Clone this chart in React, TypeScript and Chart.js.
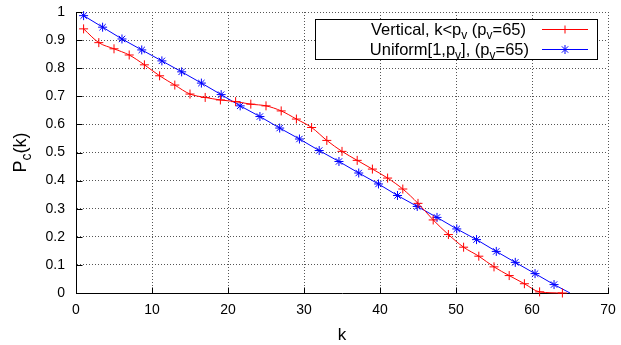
import React, { useEffect, useRef } from "react";
import { Chart, registerables } from "chart.js";

Chart.register(...registerables);

// ---- data ----
const kVertical = [1, 3, 5, 7, 9, 11, 13, 15, 17, 19, 21, 23, 25, 27, 29, 31, 33, 35, 37, 39, 41, 43, 45, 47, 49, 51, 53, 55, 57, 59, 61, 64];
const pVertical = [0.94, 0.891, 0.869, 0.847, 0.812, 0.773, 0.74, 0.708, 0.696, 0.687, 0.681, 0.672, 0.666, 0.648, 0.619, 0.589, 0.543, 0.504, 0.472, 0.441, 0.409, 0.37, 0.319, 0.26, 0.208, 0.163, 0.131, 0.093, 0.062, 0.033, 0.004, 0.0];

const kUniform = [1, 3.5, 6.05, 8.65, 11.3, 13.9, 16.5, 19.1, 21.6, 24.2, 26.8, 29.4, 32.0, 34.6, 37.2, 39.8, 42.3, 44.9, 47.5, 50.1, 52.7, 55.3, 57.8, 60.4, 62.9, 65];
const pUniform = [0.987, 0.946, 0.904, 0.865, 0.826, 0.787, 0.747, 0.706, 0.666, 0.628, 0.587, 0.548, 0.507, 0.468, 0.427, 0.388, 0.347, 0.308, 0.269, 0.228, 0.19, 0.148, 0.109, 0.069, 0.03, 0.0];

const xTickValues = [0, 10, 20, 30, 40, 50, 60, 70];
const xTickLabels = ["0", "10", "20", "30", "40", "50", "60", "70"];
const yTickValues = [0, 0.1, 0.2, 0.3, 0.4, 0.5, 0.6, 0.7, 0.8, 0.9, 1];
const yTickLabels = ["0", "0.1", "0.2", "0.3", "0.4", "0.5", "0.6", "0.7", "0.8", "0.9", "1"];

type Seg = { t: string; sub?: boolean };
const xTitle: Seg[] = [{ t: "k" }];
const yTitle: Seg[] = [{ t: "P" }, { t: "c", sub: true }, { t: "(k)" }];
const legendVertical: Seg[] = [{ t: "Vertical, k<p" }, { t: "v", sub: true }, { t: " (p" }, { t: "v", sub: true }, { t: "=65)" }];
const legendUniform: Seg[] = [{ t: "Uniform[1,p" }, { t: "v", sub: true }, { t: "], (p" }, { t: "v", sub: true }, { t: "=65)" }];

const RED = "#ff0000";
const BLUE = "#0000ff";
const FONT = '"Liberation Sans", Arial, Helvetica, sans-serif';

function richWidth(ctx: CanvasRenderingContext2D, segs: Seg[], size: number) {
  let w = 0;
  for (const s of segs) {
    ctx.font = `${s.sub ? Math.round(size * 0.75) : size}px ${FONT}`;
    w += ctx.measureText(s.t).width;
  }
  return w;
}

function drawRich(ctx: CanvasRenderingContext2D, segs: Seg[], x: number, y: number, size: number, align: "left" | "center" | "right") {
  const total = richWidth(ctx, segs, size);
  let cx = align === "right" ? x - total : align === "center" ? x - total / 2 : x;
  ctx.textAlign = "left";
  ctx.textBaseline = "alphabetic";
  for (const s of segs) {
    ctx.font = `${s.sub ? Math.round(size * 0.75) : size}px ${FONT}`;
    ctx.fillText(s.t, cx, s.sub ? y + size * 0.25 : y);
    cx += ctx.measureText(s.t).width;
  }
}

function drawMarker(ctx: CanvasRenderingContext2D, style: "cross" | "star", x: number, y: number, r: number) {
  ctx.beginPath();
  ctx.moveTo(x - r, y);
  ctx.lineTo(x + r, y);
  ctx.moveTo(x, y - r);
  ctx.lineTo(x, y + r);
  if (style === "star") {
    const d = r * Math.SQRT1_2;
    ctx.moveTo(x - d, y - d);
    ctx.lineTo(x + d, y + d);
    ctx.moveTo(x - d, y + d);
    ctx.lineTo(x + d, y - d);
  }
  ctx.stroke();
}

const decorPlugin = {
  id: "decor",
  afterDraw(chart: any) {
    const ctx: CanvasRenderingContext2D = chart.ctx;
    const { left, right, top, bottom } = chart.chartArea;
    const xs = chart.scales.x;
    const ys = chart.scales.y;
    ctx.save();
    // inside ticks
    ctx.strokeStyle = "#000";
    ctx.lineWidth = 1;
    ctx.beginPath();
    for (const v of xTickValues) {
      const px = Math.round(xs.getPixelForValue(v)) + 0.5;
      ctx.moveTo(px, Math.round(bottom) + 0.5);
      ctx.lineTo(px, Math.round(bottom) - 5.5);
    }
    for (const v of yTickValues) {
      const py = Math.round(ys.getPixelForValue(v)) + 0.5;
      ctx.moveTo(Math.round(left) + 0.5, py);
      ctx.lineTo(Math.round(left) + 6.5, py);
    }
    ctx.stroke();

    // axis titles
    ctx.fillStyle = "#000";
    drawRich(ctx, xTitle, (left + right) / 2, 340, 17, "center");
    ctx.save();
    ctx.translate(26, (top + bottom) / 2);
    ctx.rotate(-Math.PI / 2);
    drawRich(ctx, yTitle, 0, 0, 18, "center");
    ctx.restore();

    // legend
    const bx = 315.5, by = 19.5, bw = 282, bh = 40;
    ctx.fillStyle = "#fff";
    ctx.fillRect(bx, by, bw, bh);
    ctx.strokeStyle = "#000";
    ctx.strokeRect(bx, by, bw, bh);
    ctx.fillStyle = "#000";
    drawRich(ctx, legendVertical, 526, 34.5, 16.5, "right");
    drawRich(ctx, legendUniform, 529, 54.5, 16.5, "right");
    ctx.lineWidth = 1;
    ctx.strokeStyle = RED;
    ctx.beginPath();
    ctx.moveTo(542, 29.5);
    ctx.lineTo(588, 29.5);
    ctx.stroke();
    drawMarker(ctx, "cross", 565, 29.5, 4);
    ctx.strokeStyle = BLUE;
    ctx.beginPath();
    ctx.moveTo(542, 49.5);
    ctx.lineTo(588, 49.5);
    ctx.stroke();
    drawMarker(ctx, "star", 565, 49.5, 4.5);
    ctx.restore();
  },
};

export default function App() {
  const ref = useRef<HTMLCanvasElement | null>(null);
  useEffect(() => {
    if (!ref.current) return;
    const chart = new Chart(ref.current, {
      type: "line",
      data: {
        datasets: [
          {
            label: "Vertical",
            data: kVertical.map((k, i) => ({ x: k, y: pVertical[i] })),
            borderColor: RED,
            backgroundColor: RED,
            borderWidth: 1,
            pointStyle: "cross",
            pointRadius: 4.5,
            pointBorderWidth: 1,
            pointBorderColor: RED,
            cubicInterpolationMode: "monotone",
            clip: false,
            fill: false,
          },
          {
            label: "Uniform",
            data: kUniform.map((k, i) => ({ x: k, y: pUniform[i] })),
            borderColor: BLUE,
            backgroundColor: BLUE,
            borderWidth: 1,
            pointStyle: "star",
            pointRadius: kUniform.map((_, i) => (i === kUniform.length - 1 ? 0 : 4.5)),
            pointBorderWidth: 1,
            pointBorderColor: BLUE,
            tension: 0,
            clip: false,
            fill: false,
          },
        ],
      },
      options: {
        responsive: false,
        animation: false,
        events: [],
        layout: { autoPadding: false, padding: { top: 12, right: 13, left: 0, bottom: 0 } },
        plugins: { legend: { display: false }, tooltip: { enabled: false }, title: { display: false } },
        scales: {
          x: {
            type: "linear",
            min: 0,
            max: 70,
            afterBuildTicks: (axis: any) => {
              axis.ticks = xTickValues.map((v) => ({ value: v }));
            },
            afterFit: (axis: any) => {
              axis.height = 52;
              axis.paddingLeft = 0;
              axis.paddingRight = 0;
            },
            ticks: {
              callback: (v: any) => {
                const i = xTickValues.indexOf(Number(v));
                return i >= 0 ? xTickLabels[i] : "";
              },
              font: { size: 14, family: FONT },
              color: "#000",
              padding: 9,
              maxRotation: 0,
              autoSkip: false,
            },
            grid: { color: "#555", lineWidth: 1, drawTicks: false, tickLength: 0 },
            border: { display: true, color: "#000", width: 1, dash: [1, 2] },
          },
          y: {
            type: "linear",
            min: 0,
            max: 1,
            afterBuildTicks: (axis: any) => {
              axis.ticks = yTickValues.map((v) => ({ value: v }));
            },
            afterFit: (axis: any) => {
              axis.width = 76;
              axis.paddingTop = 0;
              axis.paddingBottom = 0;
            },
            ticks: {
              callback: (v: any) => {
                const i = yTickValues.findIndex((t) => Math.abs(t - Number(v)) < 1e-9);
                return i >= 0 ? yTickLabels[i] : "";
              },
              font: { size: 14, family: FONT },
              color: "#000",
              padding: 11,
              autoSkip: false,
            },
            grid: { color: "#555", lineWidth: 1, drawTicks: false, tickLength: 0 },
            border: { display: true, color: "#000", width: 1, dash: [1, 2] },
          },
        },
      } as any,
      plugins: [decorPlugin],
    });
    return () => chart.destroy();
  }, []);
  return (
    <div style={{ position: "absolute", left: 0, top: 0, width: 621, height: 345, background: "#fff" }}>
      <canvas ref={ref} width={621} height={345} style={{ width: 621, height: 345, display: "block" }} />
    </div>
  );
}
